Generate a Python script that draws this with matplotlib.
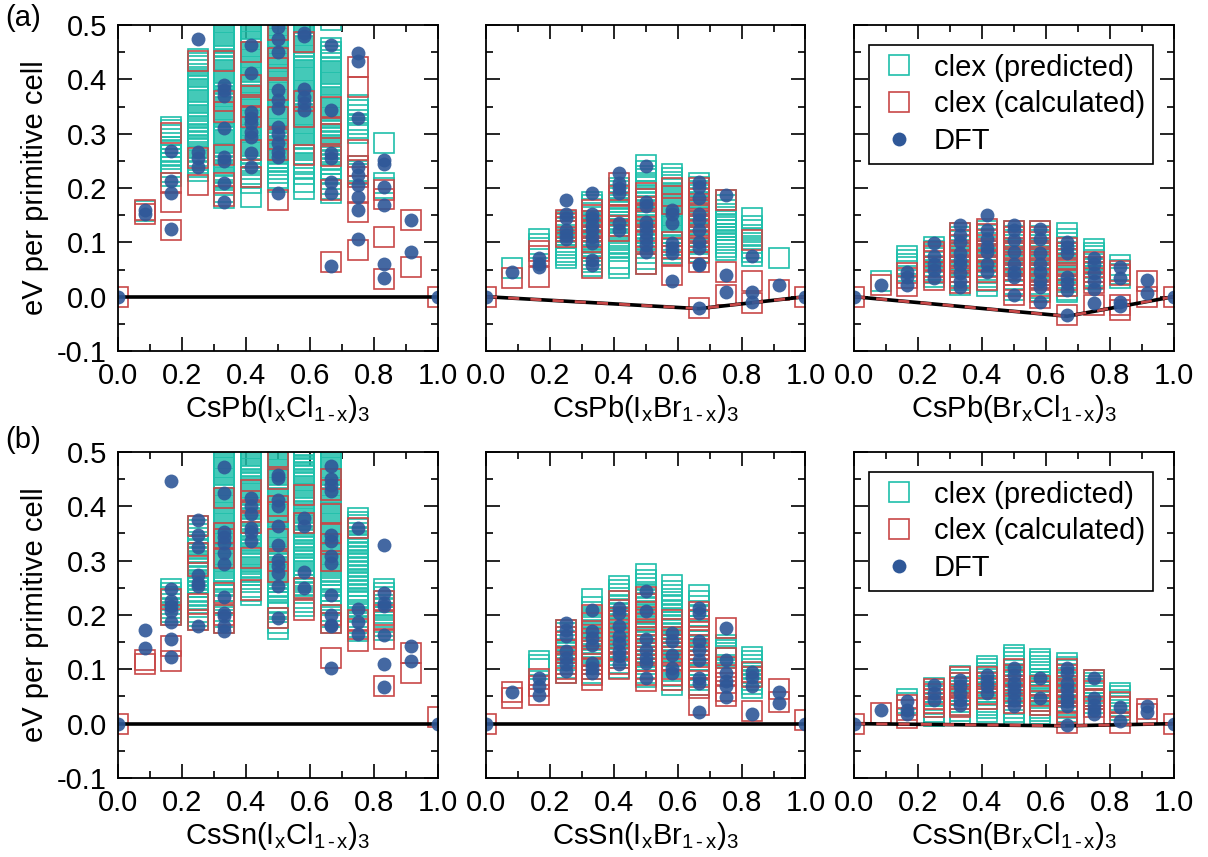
import numpy as np
import matplotlib
matplotlib.use("Agg")
import matplotlib.pyplot as plt
from matplotlib.ticker import MultipleLocator

plt.rcParams["font.family"] = ["Liberation Sans", "DejaVu Sans"]
plt.rcParams["mathtext.fontset"] = "custom"
plt.rcParams["mathtext.rm"] = "Liberation Sans"
plt.rcParams["mathtext.it"] = "Liberation Sans:italic"
plt.rcParams["axes.unicode_minus"] = False

# compositions x = k/12
comp = [0.0, 0.083, 0.167, 0.25, 0.333, 0.417, 0.5, 0.583, 0.667, 0.75, 0.833, 0.917, 1.0]

# ---- CsPb(IxCl1-x)3 ----
pb_icl_pred = [
    [],
    [0.157],
    [0.313, 0.306, 0.298, 0.29, 0.283, 0.276, 0.268, 0.261, 0.253, 0.246, 0.238, 0.23, 0.222],
    [0.438, 0.431, 0.425, 0.418, 0.41, 0.404, 0.397, 0.39, 0.383, 0.377, 0.37, 0.362, 0.356, 0.349,
     0.342, 0.335, 0.329, 0.321, 0.314, 0.308, 0.3, 0.293, 0.287, 0.28, 0.273, 0.266, 0.259, 0.252,
     0.246, 0.239, 0.232],
    [0.52, 0.513, 0.506, 0.5, 0.493, 0.486, 0.479, 0.472, 0.466, 0.459, 0.452, 0.445, 0.438, 0.432,
     0.425, 0.418, 0.411, 0.404, 0.398, 0.391, 0.384, 0.377, 0.37, 0.364, 0.357, 0.35, 0.343, 0.336,
     0.33, 0.323, 0.316, 0.309, 0.302, 0.296, 0.289, 0.282, 0.275, 0.268, 0.262, 0.255, 0.248, 0.241,
     0.234, 0.228, 0.221, 0.214, 0.205, 0.193, 0.181],
    [0.52, 0.514, 0.507, 0.501, 0.494, 0.487, 0.481, 0.474, 0.468, 0.461, 0.455, 0.448, 0.441, 0.435,
     0.428, 0.422, 0.415, 0.408, 0.402, 0.395, 0.389, 0.382, 0.376, 0.369, 0.362, 0.356, 0.349, 0.343,
     0.336, 0.329, 0.323, 0.316, 0.31, 0.303, 0.297, 0.29, 0.283, 0.277, 0.27, 0.264, 0.257, 0.25,
     0.243, 0.235, 0.226, 0.218, 0.21, 0.184],
    [0.52, 0.513, 0.507, 0.5, 0.494, 0.487, 0.48, 0.474, 0.467, 0.461, 0.454, 0.447, 0.441, 0.434,
     0.428, 0.421, 0.414, 0.408, 0.401, 0.395, 0.388, 0.381, 0.375, 0.368, 0.362, 0.355, 0.348, 0.342,
     0.335, 0.329, 0.322, 0.315, 0.309, 0.302, 0.296, 0.289, 0.282, 0.276, 0.269, 0.263, 0.256, 0.249,
     0.242, 0.235, 0.227, 0.219, 0.211],
    [0.52, 0.513, 0.506, 0.499, 0.493, 0.486, 0.479, 0.472, 0.466, 0.459, 0.452, 0.445, 0.439, 0.432,
     0.425, 0.418, 0.412, 0.405, 0.398, 0.391, 0.385, 0.378, 0.371, 0.364, 0.358, 0.351, 0.344, 0.337,
     0.331, 0.324, 0.317, 0.31, 0.304, 0.297, 0.29, 0.283, 0.277, 0.27, 0.262, 0.255, 0.245, 0.236,
     0.225, 0.212, 0.199],
    [0.51, 0.457, 0.45, 0.443, 0.436, 0.43, 0.423, 0.416, 0.409, 0.402, 0.396, 0.389, 0.382, 0.375,
     0.368, 0.362, 0.355, 0.348, 0.341, 0.334, 0.328, 0.321, 0.314, 0.307, 0.3, 0.294, 0.287, 0.28,
     0.273, 0.266, 0.26, 0.252, 0.244, 0.235, 0.226, 0.217, 0.208, 0.199, 0.19],
    [0.352, 0.343, 0.334, 0.326, 0.318, 0.31, 0.302, 0.24, 0.232, 0.225],
    [0.282, 0.21, 0.2],
    [],
    [],
]
pb_icl_calc = [
    [0.0],
    [0.160, 0.153],
    [0.302, 0.209, 0.175, 0.123],
    [0.434, 0.255, 0.205],
    [0.434, 0.36, 0.34, 0.26, 0.21, 0.185],
    [0.45, 0.39, 0.37, 0.35, 0.33, 0.27, 0.22],
    [0.49, 0.44, 0.42, 0.38, 0.33, 0.29, 0.27, 0.178],
    [0.469, 0.36, 0.33, 0.26],
    [0.35, 0.31, 0.3, 0.259, 0.196, 0.064],
    [0.423, 0.386, 0.27, 0.24, 0.22, 0.19, 0.155, 0.086],
    [0.196, 0.18, 0.11, 0.032],
    [0.141, 0.055],
    [0.0],
]
pb_icl_dft = [
    [0.0],
    [0.16, 0.152],
    [0.269, 0.213, 0.191, 0.125],
    [0.475, 0.267, 0.255, 0.239],
    [0.39, 0.38, 0.37, 0.31, 0.258, 0.25, 0.21, 0.175],
    [0.463, 0.411, 0.34, 0.328, 0.319, 0.304, 0.294, 0.264, 0.239],
    [0.497, 0.475, 0.451, 0.38, 0.362, 0.347, 0.313, 0.30, 0.282, 0.267, 0.258, 0.191],
    [0.485, 0.48, 0.383, 0.368, 0.356, 0.344],
    [0.463, 0.344, 0.264, 0.255, 0.212, 0.19, 0.057],
    [0.448, 0.433, 0.328, 0.239, 0.224, 0.206, 0.184, 0.16, 0.107],
    [0.252, 0.245, 0.202, 0.169, 0.061, 0.034],
    [0.141, 0.083],
    [0.0],
]
pb_icl_hull = [0.0, 0.0, 0.0]

# ---- CsPb(IxBr1-x)3 ----
pb_ibr_pred = [
    [],
    [0.052],
    [0.106, 0.097, 0.09],
    [0.14, 0.134, 0.127, 0.121, 0.114, 0.108, 0.101, 0.095, 0.089, 0.083, 0.077, 0.071],
    [0.175, 0.168, 0.161, 0.154, 0.147, 0.14, 0.133, 0.126, 0.119, 0.112, 0.105, 0.098, 0.091,
     0.084, 0.077, 0.07, 0.063, 0.057],
    [0.2, 0.194, 0.188, 0.181, 0.175, 0.169, 0.162, 0.156, 0.15, 0.143, 0.137, 0.131, 0.124, 0.118,
     0.112, 0.105, 0.099, 0.092, 0.084, 0.072, 0.06, 0.053],
    [0.242, 0.232, 0.223, 0.216, 0.209, 0.202, 0.195, 0.188, 0.181, 0.174, 0.167, 0.16, 0.153, 0.146,
     0.139, 0.132, 0.125, 0.118, 0.111, 0.104, 0.097, 0.09, 0.08, 0.07, 0.06],
    [0.225, 0.218, 0.211, 0.205, 0.198, 0.191, 0.185, 0.178, 0.171, 0.165, 0.158, 0.151, 0.145,
     0.138, 0.131, 0.125, 0.118, 0.111, 0.104, 0.096, 0.088, 0.08],
    [0.209, 0.202, 0.195, 0.188, 0.181, 0.174, 0.167, 0.16, 0.153, 0.146, 0.139, 0.132, 0.125,
     0.118, 0.111, 0.104, 0.097, 0.09, 0.083],
    [0.178, 0.168, 0.16, 0.153, 0.146, 0.14, 0.134, 0.128, 0.122, 0.116, 0.11, 0.104, 0.098, 0.092,
     0.086],
    [0.144, 0.13, 0.122, 0.114, 0.106, 0.098, 0.09, 0.082, 0.074],
    [0.071],
    [],
]
pb_ibr_calc = [
    [0.0],
    [0.034],
    [0.085, 0.075, 0.037],
    [0.141, 0.135, 0.128, 0.12, 0.11],
    [0.16, 0.15, 0.14, 0.13, 0.12, 0.11, 0.1, 0.09, 0.052],
    [0.209, 0.185, 0.16, 0.15, 0.13, 0.12],
    [0.19, 0.18, 0.165, 0.15, 0.14, 0.12, 0.11, 0.1, 0.06],
    [0.2, 0.185, 0.17, 0.1, 0.09, 0.075, 0.04],
    [0.2, 0.19, 0.18, 0.17, 0.16, 0.15, 0.14, 0.13, 0.12, 0.11, 0.1, 0.09, 0.08, 0.063, -0.021],
    [0.178, 0.046, 0.003],
    [0.104, 0.028, -0.012],
    [0.012],
    [0.0],
]
pb_ibr_dft = [
    [0.0],
    [0.045],
    [0.071, 0.061, 0.055],
    [0.178, 0.153, 0.144, 0.123, 0.113, 0.107],
    [0.191, 0.153, 0.144, 0.132, 0.123, 0.11, 0.098, 0.067, 0.058],
    [0.227, 0.209, 0.2, 0.19, 0.135, 0.123],
    [0.24, 0.175, 0.166, 0.138, 0.129, 0.117, 0.107, 0.095, 0.083],
    [0.16, 0.153, 0.135, 0.098, 0.089, 0.08, 0.028],
    [0.212, 0.202, 0.181, 0.153, 0.141, 0.123, 0.101, 0.089, 0.061, 0.058, -0.021],
    [0.188, 0.04, 0.008],
    [0.075, 0.009, -0.009],
    [0.021],
    [0.0],
]
pb_ibr_hull = [0.0, -0.022, 0.0]

# ---- CsPb(BrxCl1-x)3 ----
pb_brcl_pred = [
    [],
    [0.029],
    [0.075, 0.068, 0.061, 0.054, 0.047],
    [0.092, 0.085, 0.078, 0.071, 0.064, 0.057, 0.05, 0.043, 0.036],
    [0.118, 0.11, 0.102, 0.094, 0.086, 0.078, 0.07, 0.062, 0.054, 0.046, 0.038, 0.03, 0.022],
    [0.12, 0.113, 0.106, 0.099, 0.092, 0.085, 0.078, 0.071, 0.064, 0.057, 0.05, 0.043, 0.036,
     0.028, 0.02],
    [0.12, 0.112, 0.104, 0.096, 0.088, 0.08, 0.072, 0.064, 0.056, 0.048, 0.04, 0.032, 0.024, 0.012],
    [0.12, 0.112, 0.104, 0.096, 0.088, 0.08, 0.072, 0.064, 0.056, 0.048, 0.04, 0.032, 0.024, 0.016,
     0.01],
    [0.118, 0.107, 0.099, 0.091, 0.083, 0.075, 0.067, 0.059, 0.051, 0.043, 0.035, 0.027, 0.019,
     0.012, 0.008],
    [0.088, 0.081, 0.074, 0.067, 0.06, 0.053, 0.046, 0.039, 0.032],
    [0.058, 0.05, 0.042, 0.035],
    [],
    [],
]
pb_brcl_calc = [
    [0.0],
    [0.021],
    [0.043, 0.035, 0.02],
    [0.083, 0.075, 0.065, 0.055, 0.045, 0.03],
    [0.117, 0.105, 0.095, 0.085, 0.075, 0.065, 0.055, 0.045, 0.035, 0.025],
    [0.125, 0.115, 0.105, 0.095, 0.085, 0.075, 0.065, 0.055, 0.045, 0.03],
    [0.12, 0.11, 0.1, 0.09, 0.08, 0.07, 0.06, 0.05, 0.04, 0.03, 0.02, 0.003],
    [0.12, 0.11, 0.1, 0.09, 0.08, 0.07, 0.06, 0.05, 0.04, 0.03, 0.02, 0.008, -0.003],
    [0.09, 0.08, 0.07, 0.06, 0.05, 0.04, 0.03, 0.02, -0.034],
    [0.064, 0.055, 0.045, 0.035, 0.025, -0.015],
    [0.048, 0.04, -0.015, -0.024],
    [0.028, 0.0],
    [0.0],
]
pb_brcl_dft = [
    [0.0],
    [0.021],
    [0.046, 0.037, 0.021],
    [0.098, 0.074, 0.061, 0.049, 0.034],
    [0.132, 0.113, 0.101, 0.08, 0.067, 0.058, 0.043, 0.028, 0.018],
    [0.15, 0.123, 0.107, 0.092, 0.083, 0.061, 0.046],
    [0.132, 0.123, 0.104, 0.083, 0.061, 0.046, 0.037, 0.003],
    [0.124, 0.107, 0.08, 0.061, 0.046, 0.028, 0.018, -0.009],
    [0.101, 0.092, 0.08, 0.037, 0.025, 0.012, -0.034],
    [0.071, 0.061, 0.043, 0.028, 0.015, -0.012],
    [0.055, 0.034, -0.009, -0.018],
    [0.031, 0.006],
    [0.0],
]
pb_brcl_hull = [0.0, -0.036, 0.0]

# ---- CsSn(IxCl1-x)3 ----
sn_icl_pred = [
    [],
    [],
    [0.248, 0.241, 0.234, 0.227, 0.22, 0.213, 0.206, 0.2],
    [0.363, 0.356, 0.349, 0.342, 0.335, 0.328, 0.321, 0.314, 0.307, 0.3, 0.293, 0.286, 0.279, 0.272,
     0.265, 0.258, 0.251, 0.244, 0.237, 0.23, 0.222, 0.214, 0.206, 0.198, 0.19],
    [0.52, 0.513, 0.507, 0.5, 0.493, 0.487, 0.48, 0.473, 0.467, 0.46, 0.453, 0.447, 0.44, 0.433,
     0.427, 0.42, 0.413, 0.407, 0.4, 0.393, 0.387, 0.38, 0.373, 0.367, 0.36, 0.353, 0.347, 0.34,
     0.333, 0.327, 0.32, 0.313, 0.307, 0.3, 0.293, 0.287, 0.28, 0.273, 0.267, 0.26, 0.253, 0.245,
     0.236, 0.227, 0.218, 0.208, 0.196, 0.185],
    [0.52, 0.514, 0.507, 0.501, 0.494, 0.488, 0.481, 0.475, 0.468, 0.462, 0.455, 0.449, 0.442, 0.436,
     0.429, 0.423, 0.416, 0.41, 0.403, 0.397, 0.39, 0.384, 0.377, 0.371, 0.364, 0.358, 0.351, 0.345,
     0.338, 0.332, 0.325, 0.319, 0.312, 0.306, 0.299, 0.293, 0.286, 0.28, 0.273, 0.267, 0.26, 0.252,
     0.244, 0.236],
    [0.52, 0.513, 0.506, 0.5, 0.493, 0.486, 0.48, 0.473, 0.466, 0.46, 0.453, 0.446, 0.44, 0.433,
     0.426, 0.42, 0.413, 0.406, 0.4, 0.393, 0.386, 0.38, 0.373, 0.366, 0.36, 0.353, 0.346, 0.34,
     0.333, 0.326, 0.32, 0.313, 0.306, 0.3, 0.293, 0.286, 0.28, 0.273, 0.266, 0.26, 0.253, 0.246,
     0.24, 0.232, 0.224, 0.215, 0.205, 0.195, 0.185, 0.175],
    [0.52, 0.513, 0.507, 0.5, 0.494, 0.487, 0.481, 0.474, 0.468, 0.461, 0.455, 0.448, 0.442, 0.435,
     0.429, 0.422, 0.416, 0.409, 0.403, 0.396, 0.39, 0.383, 0.377, 0.37, 0.364, 0.357, 0.351, 0.344,
     0.338, 0.331, 0.325, 0.318, 0.312, 0.305, 0.299, 0.292, 0.286, 0.279, 0.272, 0.264, 0.256,
     0.248, 0.24, 0.232, 0.224, 0.216],
    [0.52, 0.513, 0.507, 0.5, 0.493, 0.487, 0.48, 0.473, 0.467, 0.46, 0.453, 0.447, 0.44, 0.433,
     0.427, 0.42, 0.413, 0.407, 0.4, 0.393, 0.387, 0.38, 0.373, 0.367, 0.36, 0.353, 0.347, 0.34,
     0.333, 0.327, 0.32, 0.313, 0.307, 0.3, 0.293, 0.287, 0.28, 0.273, 0.267, 0.26, 0.253, 0.245,
     0.236, 0.227, 0.218, 0.208, 0.196, 0.185],
    [0.379, 0.372, 0.365, 0.358, 0.351, 0.344, 0.337, 0.33, 0.323, 0.316, 0.309, 0.302, 0.295,
     0.288, 0.281, 0.274, 0.267, 0.26, 0.253, 0.246, 0.239, 0.232, 0.225, 0.216, 0.206, 0.196,
     0.186, 0.178, 0.17],
    [0.247, 0.24, 0.233, 0.226, 0.219, 0.212, 0.204, 0.196, 0.188, 0.18, 0.172],
    [],
    [],
]
sn_icl_calc = [
    [0.0],
    [0.117, 0.11],
    [0.23, 0.2, 0.142, 0.115],
    [0.363, 0.314, 0.29, 0.22, 0.191],
    [0.415, 0.35, 0.34, 0.305, 0.24, 0.2, 0.185],
    [0.43, 0.41, 0.39, 0.37, 0.305, 0.246],
    [0.49, 0.45, 0.4, 0.39, 0.34, 0.3, 0.28, 0.194],
    [0.42, 0.37, 0.25, 0.21],
    [0.45, 0.43, 0.385, 0.35, 0.33, 0.3, 0.2, 0.185, 0.121],
    [0.36, 0.19, 0.175, 0.152],
    [0.225, 0.2, 0.19, 0.155, 0.069],
    [0.13, 0.094],
    [0.013],
]
sn_icl_dft = [
    [0.0],
    [0.172, 0.139],
    [0.447, 0.247, 0.225, 0.216, 0.207, 0.188, 0.156, 0.123],
    [0.375, 0.347, 0.326, 0.274, 0.259, 0.253, 0.18],
    [0.472, 0.424, 0.353, 0.344, 0.333, 0.314, 0.293, 0.234, 0.204, 0.198, 0.179, 0.17],
    [0.415, 0.4, 0.385, 0.36, 0.353, 0.337],
    [0.458, 0.452, 0.412, 0.4, 0.364, 0.329, 0.302, 0.29, 0.277, 0.254, 0.194],
    [0.378, 0.363, 0.28, 0.25],
    [0.475, 0.45, 0.44, 0.428, 0.348, 0.336, 0.308, 0.296, 0.237, 0.2, 0.182, 0.179, 0.102],
    [0.36, 0.211, 0.188, 0.165],
    [0.328, 0.24, 0.222, 0.216, 0.164, 0.109, 0.067],
    [0.142, 0.115],
    [0.0],
]
sn_icl_hull = [0.0, 0.0, 0.0]

# ---- CsSn(IxBr1-x)3 ----
sn_ibr_pred = [
    [],
    [],
    [0.116, 0.108, 0.1],
    [0.173, 0.166, 0.159, 0.152, 0.145, 0.138, 0.131, 0.124, 0.117, 0.11, 0.102, 0.094],
    [0.229, 0.215, 0.205, 0.197, 0.189, 0.181, 0.173, 0.165, 0.157, 0.149, 0.141, 0.133, 0.125,
     0.117, 0.109, 0.101, 0.093],
    [0.253, 0.246, 0.239, 0.232, 0.225, 0.218, 0.211, 0.204, 0.197, 0.19, 0.183, 0.176, 0.169,
     0.162, 0.155, 0.148, 0.141, 0.134, 0.127, 0.12, 0.111, 0.102],
    [0.276, 0.265, 0.257, 0.25, 0.243, 0.236, 0.229, 0.222, 0.215, 0.208, 0.201, 0.194, 0.187,
     0.18, 0.173, 0.166, 0.159, 0.152, 0.145, 0.138, 0.131, 0.124, 0.117, 0.11, 0.102, 0.094, 0.085],
    [0.256, 0.245, 0.237, 0.23, 0.223, 0.216, 0.209, 0.202, 0.195, 0.188, 0.181, 0.174, 0.167,
     0.16, 0.153, 0.146, 0.139, 0.132, 0.125, 0.118, 0.111, 0.104, 0.096, 0.088, 0.08, 0.072],
    [0.237, 0.225, 0.216, 0.207, 0.198, 0.189, 0.18, 0.171, 0.162, 0.153, 0.144, 0.135, 0.126,
     0.117, 0.108, 0.099, 0.09, 0.081, 0.072],
    [0.145, 0.14, 0.135, 0.13, 0.125, 0.12],
    [0.122, 0.115, 0.108, 0.101, 0.094, 0.087, 0.08, 0.073, 0.066],
    [],
    [],
]
sn_ibr_calc = [
    [0.0],
    [0.058, 0.048],
    [0.082, 0.07, 0.053],
    [0.173, 0.16, 0.15, 0.135, 0.12, 0.11, 0.1, 0.094],
    [0.2, 0.185, 0.17, 0.155, 0.14, 0.125, 0.11, 0.1, 0.09, 0.081],
    [0.225, 0.21, 0.195, 0.18, 0.165, 0.15, 0.135, 0.12, 0.11, 0.1],
    [0.234, 0.22, 0.205, 0.19, 0.175, 0.16, 0.145, 0.13, 0.115, 0.1, 0.09, 0.078],
    [0.191, 0.175, 0.16, 0.145, 0.13, 0.115, 0.1, 0.09, 0.08],
    [0.205, 0.19, 0.175, 0.16, 0.145, 0.13, 0.115, 0.1, 0.085, 0.065, 0.035],
    [0.176, 0.12, 0.105, 0.09, 0.075, 0.06, 0.05],
    [0.095, 0.085, 0.023],
    [0.063, 0.04],
    [0.007],
]
sn_ibr_dft = [
    [0.0],
    [0.058],
    [0.084, 0.069, 0.053],
    [0.185, 0.173, 0.161, 0.133, 0.121, 0.109, 0.096],
    [0.21, 0.17, 0.158, 0.145, 0.112, 0.102, 0.093],
    [0.213, 0.204, 0.179, 0.161, 0.148, 0.133, 0.124, 0.109],
    [0.245, 0.207, 0.155, 0.136, 0.121, 0.112, 0.084],
    [0.167, 0.152, 0.127, 0.102, 0.093],
    [0.213, 0.204, 0.152, 0.136, 0.118, 0.084, 0.075, 0.021],
    [0.176, 0.118, 0.093, 0.078, 0.069, 0.049],
    [0.095, 0.086, 0.069, 0.017],
    [0.058, 0.038],
    [0.0],
]
sn_ibr_hull = [0.0, 0.0, 0.0]

# ---- CsSn(BrxCl1-x)3 ----
sn_brcl_pred = [
    [],
    [],
    [0.045, 0.038],
    [0.065, 0.058, 0.051, 0.044, 0.037, 0.03, 0.022, 0.015],
    [0.088, 0.081, 0.074, 0.067, 0.06, 0.053, 0.046, 0.039, 0.032, 0.024, 0.016],
    [0.107, 0.1, 0.094, 0.088, 0.082, 0.076, 0.07, 0.064, 0.058, 0.052, 0.046, 0.04, 0.034, 0.028,
     0.022],
    [0.127, 0.12, 0.113, 0.106, 0.099, 0.092, 0.085, 0.078, 0.071, 0.064, 0.057, 0.05, 0.043,
     0.036, 0.029, 0.022, 0.015],
    [0.119, 0.113, 0.107, 0.101, 0.095, 0.089, 0.083, 0.077, 0.071, 0.065, 0.059, 0.053, 0.047,
     0.041, 0.035, 0.029, 0.023, 0.017],
    [0.112, 0.105, 0.098, 0.091, 0.084, 0.077, 0.07, 0.063, 0.056, 0.049, 0.042, 0.035, 0.028,
     0.021, 0.014],
    [0.081, 0.075, 0.069, 0.063, 0.057, 0.051, 0.045, 0.038],
    [0.056, 0.05, 0.044, 0.038, 0.032, 0.026],
    [],
    [],
]
sn_brcl_calc = [
    [0.0],
    [0.02],
    [0.035, 0.025, 0.01],
    [0.063, 0.055, 0.045, 0.038, 0.03],
    [0.085, 0.075, 0.065, 0.055, 0.045, 0.035, 0.03],
    [0.085, 0.075, 0.065, 0.055, 0.045],
    [0.1, 0.09, 0.08, 0.07, 0.06, 0.05, 0.038],
    [0.07, 0.06, 0.05, 0.042, 0.035],
    [0.1, 0.09, 0.08, 0.07, 0.06, 0.05, 0.04, 0.03, 0.02, 0.001],
    [0.081, 0.06, 0.045, 0.03, 0.015],
    [0.04, 0.03, 0.001],
    [0.027, 0.018],
    [0.0],
]
sn_brcl_dft = [
    [0.0],
    [0.026],
    [0.041, 0.026, 0.017],
    [0.072, 0.056, 0.044],
    [0.081, 0.069, 0.056, 0.044, 0.035],
    [0.09, 0.078, 0.069, 0.056],
    [0.102, 0.09, 0.075, 0.066, 0.056, 0.044, 0.032],
    [0.084, 0.047],
    [0.102, 0.093, 0.075, 0.063, 0.05, 0.041, 0.032, -0.002],
    [0.084, 0.047, 0.035, 0.026, 0.017],
    [0.031, 0.004],
    [0.032, 0.021],
    [0.0],
]
sn_brcl_hull = [0.0, -0.004, 0.0]

hull_x = [0.0, 0.667, 1.0]

sub = r"$_\mathrm{1\,‐\,x}$)$_\mathrm{3}$"
xlabels = [
    r"CsPb(I$_\mathrm{x}$Cl" + sub,
    r"CsPb(I$_\mathrm{x}$Br" + sub,
    r"CsPb(Br$_\mathrm{x}$Cl" + sub,
    r"CsSn(I$_\mathrm{x}$Cl" + sub,
    r"CsSn(I$_\mathrm{x}$Br" + sub,
    r"CsSn(Br$_\mathrm{x}$Cl" + sub,
]

TEAL = "#1fbfaa"
RED = "#c84848"
BLUE = "#2f5898"
FS = 21


def flat(groups):
    xs, ys = [], []
    for k, vals in enumerate(groups):
        xs += [comp[k]] * len(vals)
        ys += list(vals)
    return xs, ys


def draw_panel(ax, pred, calc, dft, hull, dashed, xlabel, left, legend):
    x, y = flat(pred)
    ax.plot(x, y, ls="none", marker="s", ms=15, mfc="none", mec=TEAL, mew=1.2,
            label="clex (predicted)")
    x, y = flat(calc)
    ax.plot(x, y, ls="none", marker="s", ms=15, mfc="none", mec=RED, mew=1.2,
            label="clex (calculated)")
    ax.plot(hull_x, hull, color="black", lw=2.6, solid_capstyle="butt")
    if dashed:
        ax.plot(hull_x, hull, color=RED, lw=2.0, dashes=(4, 4))
    x, y = flat(dft)
    ax.plot(x, y, ls="none", marker="o", ms=10, color=BLUE, mec="none", alpha=0.9, label="DFT")

    ax.set_xlim(0, 1)
    ax.set_ylim(-0.1, 0.5)
    ax.xaxis.set_major_locator(MultipleLocator(0.2))
    ax.xaxis.set_minor_locator(MultipleLocator(0.1))
    ax.yaxis.set_major_locator(MultipleLocator(0.1))
    ax.yaxis.set_minor_locator(MultipleLocator(0.05))
    ax.tick_params(which="both", direction="in", top=True, right=True, width=1.2, labelsize=FS)
    ax.tick_params(which="major", length=10, pad=8)
    ax.tick_params(which="minor", length=5)
    ax.xaxis.set_major_formatter(plt.FormatStrFormatter("%.1f"))
    ax.yaxis.set_major_formatter(plt.FormatStrFormatter("%.1f"))
    for s in ax.spines.values():
        s.set_linewidth(1.3)
    ax.set_xlabel(xlabel, fontsize=FS, labelpad=2)
    if left:
        ax.set_ylabel("eV per primitive cell", fontsize=FS, labelpad=6)
    else:
        ax.tick_params(labelleft=False)
    if legend:
        handles, labels = ax.get_legend_handles_labels()
        leg = ax.legend(handles, labels, loc="upper right", bbox_to_anchor=(0.937, 0.939),
                        borderaxespad=0, fontsize=FS, fancybox=False, edgecolor="black",
                        framealpha=1, handletextpad=0.5, labelspacing=0.3, borderpad=0.3,
                        handlelength=1.4)
        leg.get_frame().set_linewidth(1.2)
        for h in leg.legend_handles:
            h.set_alpha(1)


fig = plt.figure(figsize=(12.08, 8.57), dpi=100)

lefts = [0.0977, 0.4023, 0.707]
bottoms = [0.5904, 0.0922]
w, h = 0.2645, 0.3804

panels = [
    (pb_icl_pred, pb_icl_calc, pb_icl_dft, pb_icl_hull, False),
    (pb_ibr_pred, pb_ibr_calc, pb_ibr_dft, pb_ibr_hull, True),
    (pb_brcl_pred, pb_brcl_calc, pb_brcl_dft, pb_brcl_hull, True),
    (sn_icl_pred, sn_icl_calc, sn_icl_dft, sn_icl_hull, False),
    (sn_ibr_pred, sn_ibr_calc, sn_ibr_dft, sn_ibr_hull, False),
    (sn_brcl_pred, sn_brcl_calc, sn_brcl_dft, sn_brcl_hull, True),
]

for i, (pred, calc, dft, hull, dashed) in enumerate(panels):
    r, c = divmod(i, 3)
    ax = fig.add_axes([lefts[c], bottoms[r], w, h])
    draw_panel(ax, pred, calc, dft, hull, dashed, xlabels[i], c == 0, c == 2)

fig.text(0.004, 0.979, "(a)", fontsize=FS, va="center", ha="left")
fig.text(0.004, 0.487, "(b)", fontsize=FS, va="center", ha="left")

fig.savefig("out.png", dpi=100)
